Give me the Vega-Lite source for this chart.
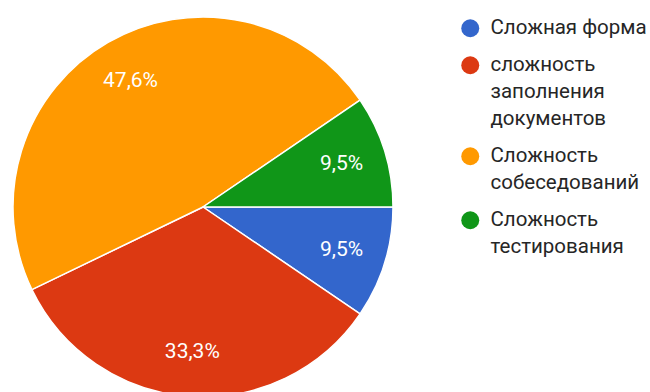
{
  "$schema": "https://vega.github.io/schema/vega-lite/v6.json",
  "width": 406,
  "height": 370,
  "autosize": {"type": "none"},
  "padding": {"left": 0, "top": 22, "right": 244, "bottom": 0},
  "background": "white",
  "config": {
    "view": {"stroke": null},
    "style": {"guide-label": {"lineHeight": 27}},
    "locale": {"number": {"decimal": ",", "thousands": " ", "grouping": [3], "currency": ["", " ₽"]}}
  },
  "data": {
    "values": [
      {"answer": "Сложная форма", "share": 0.095, "i": 1},
      {"answer": "сложность заполнения документов", "share": 0.333, "i": 2},
      {"answer": "Сложность собеседований", "share": 0.476, "i": 3},
      {"answer": "Сложность тестирования", "share": 0.095, "i": 4}
    ]
  },
  "encoding": {
    "theta": {"field": "share", "type": "quantitative", "stack": true, "scale": {"range": [1.5708, 7.854]}},
    "order": {"field": "i", "type": "quantitative"}
  },
  "layer": [
    {
      "mark": {"type": "arc", "outerRadius": 190, "stroke": "white", "strokeWidth": 1.5},
      "encoding": {
        "color": {
          "field": "answer",
          "type": "nominal",
          "scale": {
            "domain": ["Сложная форма", "сложность заполнения документов", "Сложность собеседований", "Сложность тестирования"],
            "range": ["#3366cc", "#dc3912", "#ff9900", "#109618"]
          },
          "legend": {
            "orient": "none",
            "legendX": 460,
            "legendY": -4,
            "title": null,
            "symbolType": "circle",
            "symbolSize": 324,
            "symbolStrokeWidth": 0,
            "symbolOpacity": 1,
            "labelFont": "Roboto",
            "labelFontSize": 20.5,
            "labelColor": "#262626",
            "labelOffset": 10,
            "labelLimit": 300,
            "padding": 0,
            "rowPadding": 16,
            "labelExpr": "datum.label == 'Сложная форма' ? datum.label : split(datum.label, ' ')",
            "encode": {
              "labels": {
                "update": {
                  "lineHeight": {"value": 27},
                  "baseline": {"value": "top"},
                  "dy": {"value": -12}
                }
              }
            }
          }
        }
      }
    },
    {
      "mark": {"type": "text", "radius": 145, "font": "Roboto", "fontSize": 21, "fill": "white"},
      "encoding": {
        "text": {"field": "share", "type": "quantitative", "format": ".1%"}
      }
    }
  ]
}
